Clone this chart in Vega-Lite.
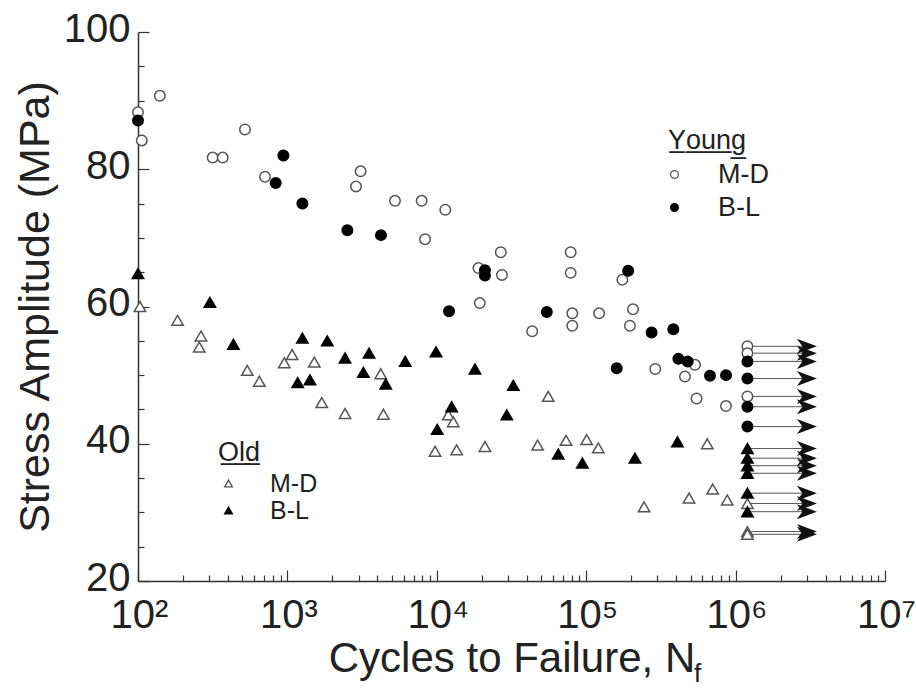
{
  "$schema": "https://vega.github.io/schema/vega-lite/v6.json",
  "width": 747,
  "height": 549,
  "autosize": {"type": "none"},
  "padding": {"left": 138, "top": 32, "right": 31, "bottom": 109},
  "background": "white",
  "config": {
    "view": {"stroke": null},
    "font": "Liberation Sans",
    "axis": {"grid": false, "labelColor": "#222", "titleColor": "#222", "tickColor": "#333", "domainColor": "#333", "titleFontWeight": "normal"},
    "legend": {"labelColor": "#222", "titleColor": "#222"}
  },
  "title": {"text": "f", "orient": "bottom", "anchor": "middle", "fontSize": 26, "font": "Liberation Sans", "fontWeight": "normal", "dx": 186, "offset": -18, "color": "#222"},
  "data": {
    "values": [
      {"N": 100, "S": 88.3, "age": "Young", "method": "M-D", "runout": 0},
      {"N": 106, "S": 84.2, "age": "Young", "method": "M-D", "runout": 0},
      {"N": 140, "S": 90.7, "age": "Young", "method": "M-D", "runout": 0},
      {"N": 520, "S": 85.8, "age": "Young", "method": "M-D", "runout": 0},
      {"N": 316, "S": 81.7, "age": "Young", "method": "M-D", "runout": 0},
      {"N": 369, "S": 81.7, "age": "Young", "method": "M-D", "runout": 0},
      {"N": 708, "S": 78.9, "age": "Young", "method": "M-D", "runout": 0},
      {"N": 2880, "S": 77.5, "age": "Young", "method": "M-D", "runout": 0},
      {"N": 3090, "S": 79.7, "age": "Young", "method": "M-D", "runout": 0},
      {"N": 5250, "S": 75.4, "age": "Young", "method": "M-D", "runout": 0},
      {"N": 7920, "S": 75.4, "age": "Young", "method": "M-D", "runout": 0},
      {"N": 8340, "S": 69.8, "age": "Young", "method": "M-D", "runout": 0},
      {"N": 11400, "S": 74.1, "age": "Young", "method": "M-D", "runout": 0},
      {"N": 19000, "S": 65.6, "age": "Young", "method": "M-D", "runout": 0},
      {"N": 19400, "S": 60.5, "age": "Young", "method": "M-D", "runout": 0},
      {"N": 26800, "S": 67.9, "age": "Young", "method": "M-D", "runout": 0},
      {"N": 27300, "S": 64.6, "age": "Young", "method": "M-D", "runout": 0},
      {"N": 43500, "S": 56.4, "age": "Young", "method": "M-D", "runout": 0},
      {"N": 78700, "S": 67.9, "age": "Young", "method": "M-D", "runout": 0},
      {"N": 78700, "S": 64.9, "age": "Young", "method": "M-D", "runout": 0},
      {"N": 80700, "S": 59.0, "age": "Young", "method": "M-D", "runout": 0},
      {"N": 80700, "S": 57.2, "age": "Young", "method": "M-D", "runout": 0},
      {"N": 122000, "S": 59.0, "age": "Young", "method": "M-D", "runout": 0},
      {"N": 174600, "S": 63.9, "age": "Young", "method": "M-D", "runout": 0},
      {"N": 205700, "S": 59.6, "age": "Young", "method": "M-D", "runout": 0},
      {"N": 196000, "S": 57.2, "age": "Young", "method": "M-D", "runout": 0},
      {"N": 290000, "S": 50.9, "age": "Young", "method": "M-D", "runout": 0},
      {"N": 458000, "S": 49.8, "age": "Young", "method": "M-D", "runout": 0},
      {"N": 535000, "S": 51.5, "age": "Young", "method": "M-D", "runout": 0},
      {"N": 548000, "S": 46.6, "age": "Young", "method": "M-D", "runout": 0},
      {"N": 863000, "S": 45.5, "age": "Young", "method": "M-D", "runout": 0},
      {"N": 1200000, "S": 54.2, "age": "Young", "method": "M-D", "runout": 1},
      {"N": 1200000, "S": 53.2, "age": "Young", "method": "M-D", "runout": 1},
      {"N": 1200000, "S": 46.9, "age": "Young", "method": "M-D", "runout": 1},
      {"N": 100, "S": 87.1, "age": "Young", "method": "B-L", "runout": 0},
      {"N": 835, "S": 78.0, "age": "Young", "method": "B-L", "runout": 0},
      {"N": 940, "S": 82.0, "age": "Young", "method": "B-L", "runout": 0},
      {"N": 1260, "S": 75.0, "age": "Young", "method": "B-L", "runout": 0},
      {"N": 2520, "S": 71.1, "age": "Young", "method": "B-L", "runout": 0},
      {"N": 4230, "S": 70.4, "age": "Young", "method": "B-L", "runout": 0},
      {"N": 12080, "S": 59.3, "age": "Young", "method": "B-L", "runout": 0},
      {"N": 21000, "S": 65.3, "age": "Young", "method": "B-L", "runout": 0},
      {"N": 21000, "S": 64.5, "age": "Young", "method": "B-L", "runout": 0},
      {"N": 54500, "S": 59.2, "age": "Young", "method": "B-L", "runout": 0},
      {"N": 160000, "S": 51.0, "age": "Young", "method": "B-L", "runout": 0},
      {"N": 191000, "S": 65.2, "age": "Young", "method": "B-L", "runout": 0},
      {"N": 274000, "S": 56.2, "age": "Young", "method": "B-L", "runout": 0},
      {"N": 383000, "S": 56.7, "age": "Young", "method": "B-L", "runout": 0},
      {"N": 414000, "S": 52.4, "age": "Young", "method": "B-L", "runout": 0},
      {"N": 478000, "S": 52.0, "age": "Young", "method": "B-L", "runout": 0},
      {"N": 674000, "S": 49.9, "age": "Young", "method": "B-L", "runout": 0},
      {"N": 863000, "S": 50.0, "age": "Young", "method": "B-L", "runout": 0},
      {"N": 1200000, "S": 52.0, "age": "Young", "method": "B-L", "runout": 1},
      {"N": 1200000, "S": 49.5, "age": "Young", "method": "B-L", "runout": 1},
      {"N": 1200000, "S": 45.4, "age": "Young", "method": "B-L", "runout": 1},
      {"N": 1200000, "S": 42.5, "age": "Young", "method": "B-L", "runout": 1},
      {"N": 103, "S": 60.0, "age": "Old", "method": "M-D", "runout": 0},
      {"N": 184, "S": 58.0, "age": "Old", "method": "M-D", "runout": 0},
      {"N": 264, "S": 55.7, "age": "Old", "method": "M-D", "runout": 0},
      {"N": 257, "S": 54.1, "age": "Old", "method": "M-D", "runout": 0},
      {"N": 539, "S": 50.7, "age": "Old", "method": "M-D", "runout": 0},
      {"N": 649, "S": 49.1, "age": "Old", "method": "M-D", "runout": 0},
      {"N": 953, "S": 51.8, "age": "Old", "method": "M-D", "runout": 0},
      {"N": 1075, "S": 53.0, "age": "Old", "method": "M-D", "runout": 0},
      {"N": 1514, "S": 51.9, "age": "Old", "method": "M-D", "runout": 0},
      {"N": 1698, "S": 46.0, "age": "Old", "method": "M-D", "runout": 0},
      {"N": 2430, "S": 44.4, "age": "Old", "method": "M-D", "runout": 0},
      {"N": 4210, "S": 50.2, "age": "Old", "method": "M-D", "runout": 0},
      {"N": 4390, "S": 44.3, "age": "Old", "method": "M-D", "runout": 0},
      {"N": 9730, "S": 38.9, "age": "Old", "method": "M-D", "runout": 0},
      {"N": 11940, "S": 44.2, "age": "Old", "method": "M-D", "runout": 0},
      {"N": 12880, "S": 43.2, "age": "Old", "method": "M-D", "runout": 0},
      {"N": 13580, "S": 39.1, "age": "Old", "method": "M-D", "runout": 0},
      {"N": 21000, "S": 39.6, "age": "Old", "method": "M-D", "runout": 0},
      {"N": 47300, "S": 39.8, "age": "Old", "method": "M-D", "runout": 0},
      {"N": 55700, "S": 46.9, "age": "Old", "method": "M-D", "runout": 0},
      {"N": 73300, "S": 40.5, "age": "Old", "method": "M-D", "runout": 0},
      {"N": 100700, "S": 40.6, "age": "Old", "method": "M-D", "runout": 0},
      {"N": 120500, "S": 39.4, "age": "Old", "method": "M-D", "runout": 0},
      {"N": 244000, "S": 30.8, "age": "Old", "method": "M-D", "runout": 0},
      {"N": 488000, "S": 32.1, "age": "Old", "method": "M-D", "runout": 0},
      {"N": 646000, "S": 40.0, "age": "Old", "method": "M-D", "runout": 0},
      {"N": 702000, "S": 33.4, "age": "Old", "method": "M-D", "runout": 0},
      {"N": 879000, "S": 31.8, "age": "Old", "method": "M-D", "runout": 0},
      {"N": 1200000, "S": 31.3, "age": "Old", "method": "M-D", "runout": 1},
      {"N": 1200000, "S": 27.2, "age": "Old", "method": "M-D", "runout": 1},
      {"N": 1200000, "S": 26.8, "age": "Old", "method": "M-D", "runout": 1},
      {"N": 100, "S": 64.8, "age": "Old", "method": "B-L", "runout": 0},
      {"N": 303, "S": 60.6, "age": "Old", "method": "B-L", "runout": 0},
      {"N": 435, "S": 54.5, "age": "Old", "method": "B-L", "runout": 0},
      {"N": 1172, "S": 48.9, "age": "Old", "method": "B-L", "runout": 0},
      {"N": 1260, "S": 55.4, "age": "Old", "method": "B-L", "runout": 0},
      {"N": 1416, "S": 49.3, "age": "Old", "method": "B-L", "runout": 0},
      {"N": 1850, "S": 55.0, "age": "Old", "method": "B-L", "runout": 0},
      {"N": 2430, "S": 52.5, "age": "Old", "method": "B-L", "runout": 0},
      {"N": 3225, "S": 50.4, "age": "Old", "method": "B-L", "runout": 0},
      {"N": 3520, "S": 53.2, "age": "Old", "method": "B-L", "runout": 0},
      {"N": 4550, "S": 48.7, "age": "Old", "method": "B-L", "runout": 0},
      {"N": 6150, "S": 52.0, "age": "Old", "method": "B-L", "runout": 0},
      {"N": 9880, "S": 53.4, "age": "Old", "method": "B-L", "runout": 0},
      {"N": 10070, "S": 42.1, "age": "Old", "method": "B-L", "runout": 0},
      {"N": 12570, "S": 45.4, "age": "Old", "method": "B-L", "runout": 0},
      {"N": 18000, "S": 50.9, "age": "Old", "method": "B-L", "runout": 0},
      {"N": 29400, "S": 44.2, "age": "Old", "method": "B-L", "runout": 0},
      {"N": 32500, "S": 48.5, "age": "Old", "method": "B-L", "runout": 0},
      {"N": 65000, "S": 38.5, "age": "Old", "method": "B-L", "runout": 0},
      {"N": 94200, "S": 37.2, "age": "Old", "method": "B-L", "runout": 0},
      {"N": 212000, "S": 37.9, "age": "Old", "method": "B-L", "runout": 0},
      {"N": 408000, "S": 40.3, "age": "Old", "method": "B-L", "runout": 0},
      {"N": 1200000, "S": 39.3, "age": "Old", "method": "B-L", "runout": 1},
      {"N": 1200000, "S": 37.9, "age": "Old", "method": "B-L", "runout": 1},
      {"N": 1200000, "S": 36.8, "age": "Old", "method": "B-L", "runout": 1},
      {"N": 1200000, "S": 35.7, "age": "Old", "method": "B-L", "runout": 1},
      {"N": 1200000, "S": 32.8, "age": "Old", "method": "B-L", "runout": 1},
      {"N": 1200000, "S": 30.1, "age": "Old", "method": "B-L", "runout": 1}
    ]
  },
  "resolve": {
    "scale": {"fill": "independent", "stroke": "independent"},
    "axis": {"x": "independent", "y": "independent"}
  },
  "layer": [
    {
      "transform": [{"filter": "datum.runout == 1"}],
      "mark": {"type": "rule", "stroke": "#555", "strokeWidth": 1},
      "encoding": {
        "x": {"field": "N", "type": "quantitative",
              "scale": {"type": "log", "domain": [100, 10000000], "nice": false},
              "axis": {"orient": "bottom", "values": [200,300,400,500,600,700,800,900,2000,3000,4000,5000,6000,7000,8000,9000,20000,30000,40000,50000,60000,70000,80000,90000,200000,300000,400000,500000,600000,700000,800000,900000,2000000,3000000,4000000,5000000,6000000,7000000,8000000,9000000],
                       "labels": false, "domain": false, "tickSize": -6, "tickWidth": 1.2, "title": null}},
        "x2": {"datum": 3000000},
        "y": {"field": "S", "type": "quantitative",
              "scale": {"domain": [20, 100], "nice": false, "zero": false},
              "axis": {"orient": "left", "values": [25,30,35,45,50,55,65,70,75,85,90,95],
                       "labels": false, "domain": false, "tickSize": -6, "tickWidth": 1.2, "title": null}}
      }
    },
    {
      "transform": [{"filter": "datum.runout == 1"}],
      "mark": {"type": "point", "shape": "M1,0L-1,-0.75L-0.45,0L-1,0.75Z", "filled": true, "fill": "#111", "size": 400, "opacity": 1, "strokeWidth": 0},
      "encoding": {
        "x": {"datum": 3000000, "type": "quantitative", "scale": {"type": "log", "domain": [100, 10000000], "nice": false}, "axis": null},
        "y": {"field": "S", "type": "quantitative", "scale": {"domain": [20, 100], "nice": false, "zero": false}, "axis": null}
      }
    },
    {
      "transform": [{"filter": "datum.age == 'Young'"}],
      "mark": {"type": "point", "shape": "circle", "size": 110, "strokeWidth": 1.5, "opacity": 1},
      "encoding": {
        "x": {"field": "N", "type": "quantitative",
              "scale": {"type": "log", "domain": [100, 10000000], "nice": false},
              "axis": {"orient": "bottom", "values": [100,1000,10000,100000,1000000,10000000],
                       "labelExpr": "'10' + ['⁰','¹','²','³','⁴','⁵','⁶','⁷'][round(log(datum.value)/LN10)]",
                       "labelFontSize": 40, "labelPadding": 25, "labelOffset": 1, "labelFlush": false,
                       "tickSize": -11, "tickWidth": 1.2, "domainWidth": 1.5,
                       "title": "Cycles to Failure, N", "titleFontSize": 42, "titlePadding": 3}},
        "y": {"field": "S", "type": "quantitative",
              "scale": {"domain": [20, 100], "nice": false, "zero": false},
              "axis": {"orient": "left", "values": [20,40,60,80,100],
                       "labelFontSize": 40, "labelPadding": 19, "labelOffset": -3, "labelFlush": false,
                       "tickSize": -11, "tickWidth": 1.2, "domainWidth": 1.5,
                       "title": "Stress Amplitude  (MPa)", "titleFontSize": 43, "titlePadding": 6}},
        "fill": {"field": "method", "type": "nominal", "title": "Y\u0332o\u0332u\u0332n\u0332g\u0332",
                 "scale": {"domain": ["M-D", "B-L"], "range": ["white", "black"]},
                 "legend": {"orient": "none", "legendX": 530, "legendY": 96, "padding": 0,
                            "titleFontSize": 27, "titleFontWeight": "normal", "titlePadding": 6,
                            "labelFontSize": 27, "labelOffset": 30, "symbolOffset": -7,
                            "symbolSize": 60, "symbolStrokeWidth": 1.3, "symbolType": "circle", "rowPadding": 5}},
        "stroke": {"field": "method", "type": "nominal", "title": "Y\u0332o\u0332u\u0332n\u0332g\u0332",
                   "scale": {"domain": ["M-D", "B-L"], "range": ["#555", "black"]},
                   "legend": {"orient": "none", "legendX": 530, "legendY": 96, "padding": 0,
                            "titleFontSize": 27, "titleFontWeight": "normal", "titlePadding": 6,
                            "labelFontSize": 27, "labelOffset": 30, "symbolOffset": -7,
                            "symbolSize": 60, "symbolStrokeWidth": 1.3, "symbolType": "circle", "rowPadding": 5}}
      }
    },
    {
      "transform": [{"filter": "datum.age == 'Old'"}],
      "mark": {"type": "point", "shape": "triangle-up", "size": 130, "strokeWidth": 1.5, "opacity": 1},
      "encoding": {
        "x": {"field": "N", "type": "quantitative", "scale": {"type": "log", "domain": [100, 10000000], "nice": false}, "axis": null},
        "y": {"field": "S", "type": "quantitative", "scale": {"domain": [20, 100], "nice": false, "zero": false}, "axis": null},
        "fill": {"field": "method", "type": "nominal", "title": "O\u0332l\u0332d\u0332",
                 "scale": {"domain": ["M-D", "B-L"], "range": ["white", "black"]},
                 "legend": {"orient": "none", "legendX": 80, "legendY": 408, "padding": 0,
                            "titleFontSize": 27, "titleFontWeight": "normal", "titlePadding": 4,
                            "labelFontSize": 25, "labelOffset": 29, "symbolOffset": -2,
                            "symbolSize": 60, "symbolStrokeWidth": 1.3, "symbolType": "triangle-up", "rowPadding": 1}},
        "stroke": {"field": "method", "type": "nominal", "title": "O\u0332l\u0332d\u0332",
                   "scale": {"domain": ["M-D", "B-L"], "range": ["#555", "black"]},
                   "legend": {"orient": "none", "legendX": 80, "legendY": 408, "padding": 0,
                            "titleFontSize": 27, "titleFontWeight": "normal", "titlePadding": 4,
                            "labelFontSize": 25, "labelOffset": 29, "symbolOffset": -2,
                            "symbolSize": 60, "symbolStrokeWidth": 1.3, "symbolType": "triangle-up", "rowPadding": 1}}
      }
    }
  ]
}
